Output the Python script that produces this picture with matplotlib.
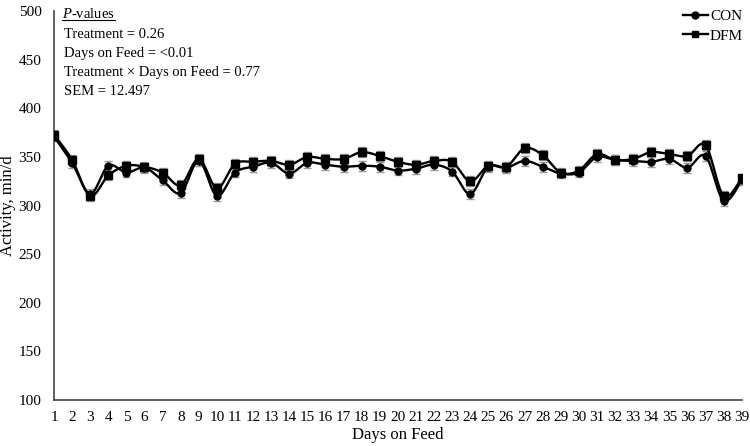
import numpy as np
import matplotlib
matplotlib.use('Agg')
import matplotlib.pyplot as plt
from matplotlib.lines import Line2D

plt.rcParams['font.family'] = ['Liberation Serif', 'DejaVu Serif']
plt.rcParams['mathtext.fontset'] = 'custom'
plt.rcParams['mathtext.rm'] = 'Liberation Serif'
plt.rcParams['mathtext.it'] = 'Liberation Serif:italic'

days = list(range(1, 40))
con = [371, 344, 312, 341, 334, 339, 326, 313, 346, 310, 334, 340, 344, 333, 344, 342, 340, 341, 340, 336,
       338, 342, 335, 312, 340, 339, 346, 340, 333, 334, 350, 347, 346, 345, 348, 339, 351, 305, 326]
dfm = [373, 347, 310, 331, 341, 340, 334, 321, 348, 318, 343, 345, 346, 342, 350, 348, 348, 355, 351, 345,
       342, 346, 345, 325, 341, 340, 359, 352, 334, 336, 353, 347, 348, 355, 353, 351, 362, 310, 328]
sem_bar = 5.0

stats_lines = ['Treatment = 0.26', 'Days on Feed = <0.01',
               'Treatment \u00d7 Days on Feed = 0.77', 'SEM = 12.497']


def smooth(x, y, n=16):
    # Excel-style smoothed line (Bezier through the points)
    pts = np.column_stack([x, y]).astype(float)
    pad = np.vstack([pts[0], pts, pts[-1]])
    t = np.linspace(0, 1, n)[:, None]
    segs = []
    for i in range(len(pts) - 1):
        p0, p1, p2, p3 = pad[i], pad[i + 1], pad[i + 2], pad[i + 3]
        c1 = p1 + (p2 - p0) / 6
        c2 = p2 - (p3 - p1) / 6
        segs.append((1 - t) ** 3 * p1 + 3 * (1 - t) ** 2 * t * c1 + 3 * (1 - t) * t ** 2 * c2 + t ** 3 * p2)
    s = np.vstack(segs)
    return s[:, 0], s[:, 1]


fig = plt.figure(figsize=(7.5, 4.46), dpi=100)
ax = fig.add_axes([0.072, 0.103, 0.917, 0.872])

for vals, mk, ms in [(con, 'o', 5), (dfm, 's', 5.5)]:
    ax.errorbar(days, vals, yerr=sem_bar, fmt='none', ecolor='#9a9a9a', elinewidth=1, capsize=3, zorder=2)
    sx, sy = smooth(days, vals)
    ax.plot(sx, sy, color='black', lw=1.7, zorder=3)
    ax.plot(days, vals, linestyle='none', marker=mk, ms=ms, color='black', zorder=4)

ax.set_xlim(1, 39)
ax.set_ylim(100, 500)
ax.set_xticks(days)
ax.set_yticks(range(100, 501, 50))
ax.tick_params(length=0, labelsize=11, pad=8)
ax.tick_params(axis='y', pad=9)
for s in ['top', 'right']:
    ax.spines[s].set_visible(False)
for s in ['left', 'bottom']:
    ax.spines[s].set_color('#444444')
    ax.spines[s].set_linewidth(1.2)

ax.set_xlabel('Days on Feed', fontsize=12, labelpad=2)
ax.set_ylabel('Activity, min/d', fontsize=12)
ax.yaxis.set_label_coords(-0.055, 0.5)

handles = [Line2D([], [], color='black', lw=1.7, marker='o', ms=5),
           Line2D([], [], color='black', lw=1.7, marker='s', ms=5)]
ax.legend(handles, ['CON', 'DFM'], loc='upper right', bbox_to_anchor=(1.022, 1.04), frameon=False,
          fontsize=11, handlelength=1.7, handletextpad=0.1, labelspacing=0.4)

pv = fig.text(0.083, 0.985, r'$\it{P}$-values', fontsize=10.5, va='top')
y0 = 0.938
for i, line in enumerate(stats_lines):
    fig.text(0.085, y0 - i * 0.0426, line, fontsize=10.5, va='top')

fig.canvas.draw()
bb = pv.get_window_extent().transformed(fig.transFigure.inverted())
fig.add_artist(Line2D([bb.x0, bb.x1], [bb.y0 + 0.002, bb.y0 + 0.002], color='black', lw=0.8,
                      transform=fig.transFigure))

fig.savefig('out.png', dpi=100)
